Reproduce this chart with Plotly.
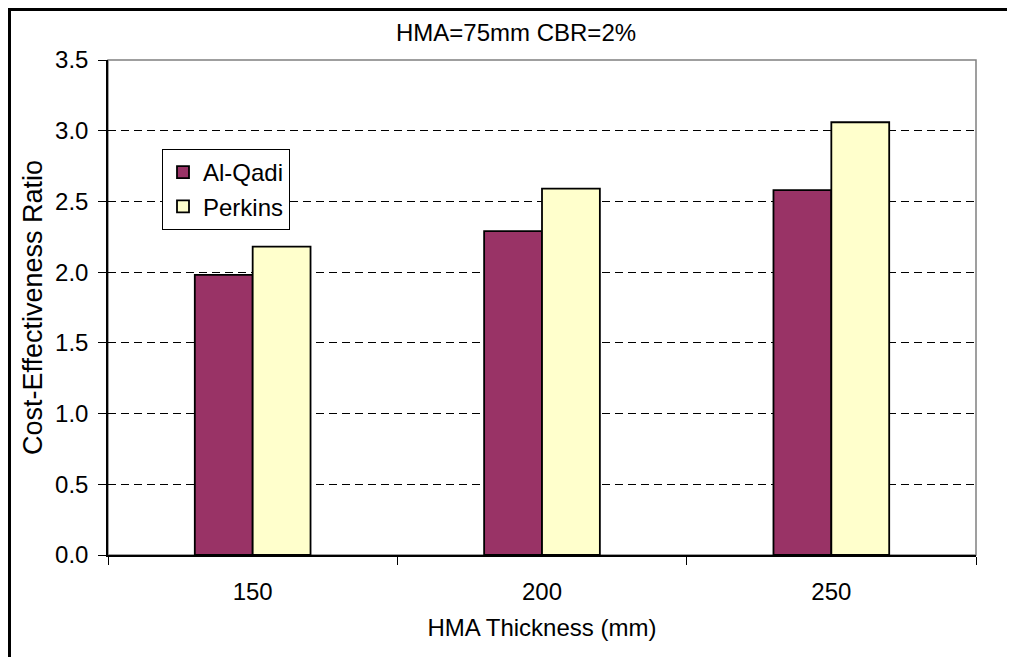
import plotly.graph_objects as go

categories = ["150", "200", "250"]
al_qadi = [1.98, 2.29, 2.58]
perkins = [2.18, 2.59, 3.06]
y_ticks = [0.0, 0.5, 1.0, 1.5, 2.0, 2.5, 3.0, 3.5]
y_tick_labels = ["0.0", "0.5", "1.0", "1.5", "2.0", "2.5", "3.0", "3.5"]
title_text = "HMA=75mm CBR=2%"
x_title = "HMA Thickness (mm)"
y_title = "Cost-Effectiveness Ratio"

OFF = 8  # page body margin
W, H = 1015, 657
# plot area in page pixels: x 108..976, y 60..555
L = 108 - OFF
T = 60 - OFF
R = W - (976 - OFF)
B = H - (555 - OFF)
pw, ph = W - L - R, H - T - B

def px_x(p):  # page pixel -> paper x
    return (p - OFF - L) / pw

def px_y(p):  # page pixel -> paper y
    return (H - B - (p - OFF)) / ph

FONT = "Liberation Sans, Arial, sans-serif"

fig = go.Figure()
fig.add_trace(go.Bar(name="Al-Qadi", x=categories, y=al_qadi,
                     marker=dict(color="#993366", line=dict(color="black", width=1.8))))
fig.add_trace(go.Bar(name="Perkins", x=categories, y=perkins,
                     marker=dict(color="#FFFFCC", line=dict(color="black", width=1.8))))

fig.update_layout(
    width=W, height=H,
    margin=dict(l=L, r=R, t=T, b=B, autoexpand=False),
    paper_bgcolor="white", plot_bgcolor="white",
    font=dict(family=FONT, size=24, color="black"),
    barmode="group", bargap=0.6, bargroupgap=0,
    showlegend=True,
    legend=dict(x=px_x(162), y=px_y(149), xanchor="left", yanchor="top",
                bordercolor="black", borderwidth=1, bgcolor="white",
                font=dict(size=24), tracegroupgap=0, itemwidth=30),
    xaxis=dict(type="category", showline=True, linecolor="black", linewidth=1.5,
               ticks="outside", tickson="boundaries", ticklen=8, tickcolor="black",
               ticklabelstandoff=14,
               showgrid=False, zeroline=False,
               title=dict(text=x_title, standoff=16, font=dict(size=24))),
    yaxis=dict(range=[0, 3.5], tickvals=y_ticks, ticktext=y_tick_labels,
               showline=True, linecolor="black", linewidth=1.5,
               ticks="outside", ticklen=8, tickcolor="black",
               ticklabelstandoff=5,
               showgrid=True, gridcolor="black", gridwidth=1, griddash="8px,5px",
               zeroline=False,
               title=dict(text=y_title, standoff=5, font=dict(size=27))),
)

# grey plot-area border
fig.add_shape(type="rect", xref="paper", yref="paper", x0=0, y0=0, x1=1, y1=1,
              line=dict(color="#808080", width=1.5), layer="below")
# outer chart frame (left and top edges visible; right/bottom run off the page)
fig.add_shape(type="rect", xref="paper", yref="paper",
              x0=px_x(OFF + 1.5), y0=px_y(OFF + 1.5), x1=px_x(W + 30), y1=px_y(H + 30),
              line=dict(color="black", width=3), layer="above")

fig.add_annotation(text=title_text, xref="paper", yref="paper",
                   x=px_x(516), y=px_y(32), xanchor="center", yanchor="middle",
                   showarrow=False, font=dict(size=24))

fig.write_html("out.html")
